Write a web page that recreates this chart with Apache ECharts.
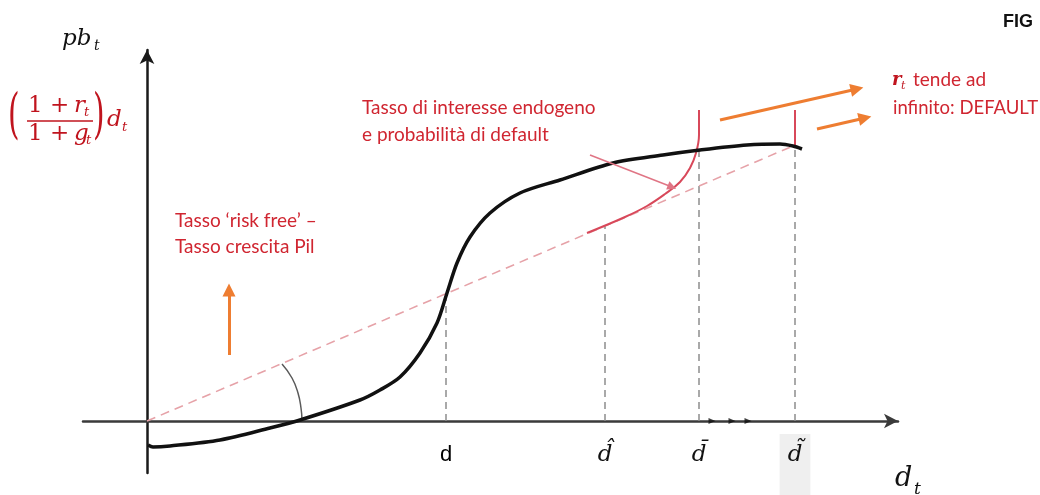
<!DOCTYPE html>
<html>
<head>
<meta charset="utf-8">
<script src="https://cdn.jsdelivr.net/npm/echarts@6/dist/echarts.min.js"></script>
<style>
  html, body { margin: 0; padding: 0; background: #ffffff; }
  #chart { width: 1040px; height: 495px; }
</style>
</head>
<body>
<div id="chart"></div>
<script>
// Primary balance pb_t as a function of the debt level d_t (S-shaped response)
const curveX = [0.1, 0.6, 2.3, 7.3, 12.3, 15.3, 21.3, 23.3, 25.3, 27.3, 29.0, 30.0, 31.0, 32.3, 34.3, 37.3, 41.3, 46.6, 51.6, 55.3, 60.0, 63.3, 64.6, 65.5];
const curveY = [-2.4, -2.6, -2.5, -1.9, -0.7, 0.1, 2.1, 3.1, 4.4, 6.8, 9.8, 12.8, 15.8, 18.4, 20.8, 22.8, 24.1, 25.8, 26.6, 27.1, 27.6, 27.7, 27.5, 27.2];

// Interest burden line ((1+r)/(1+g)) d_t with the risk-free rate
const rateLineX = [0, 64.6];
const rateLineY = [0, 27.5];

// Endogenous rate branch: the burden bends up and explodes at d-bar
const endoX = [44.0, 47.8, 50.0, 51.8, 53.3, 54.3, 54.9, 55.2, 55.2];
const endoY = [18.8, 20.4, 21.5, 22.7, 23.9, 25.3, 26.8, 28.6, 31.1];

// Vertical burden at d-tilde
const tildeX = [64.8, 64.8];
const tildeY = [27.4, 31.1];

// Debt thresholds on the horizontal axis
const thresholdValues = [29.9, 45.8, 55.2, 64.8];
const thresholdLabels = ['d', 'd\u0302', 'd\u0304', 'd\u0303'];
const thresholdTops = [12.8, 19.5, 27.1, 27.4];

// Angle mark between the rate line and the axis
const arcX = [13.5, 14.5, 15.1, 15.4, 15.5];
const arcY = [5.7, 4.3, 2.8, 1.3, 0.1];

// Arrows: [x0, y0, x1, y1]
const orangeArrows = [[8.2, 6.6, 8.2, 13.1], [57.3, 30.1, 71.0, 33.2], [67.0, 29.2, 71.8, 30.3]];
const pinkArrows = [[44.3, 26.6, 52.5, 23.4]];

// Small step marks between d-bar and d-tilde
const stepMarksX = [56.5, 58.5, 60.1];

const RED = '#d02631';
const DARKRED = '#c0141e';
const SERIF = '"DejaVu Serif"';
const SANS = 'Lato';

const zip = (xs, ys) => xs.map((x, i) => [x, ys[i]]);

const dropSeries = thresholdValues.map((x, i) => ({
  type: 'line',
  data: [[x, 0], [x, thresholdTops[i]]],
  symbol: 'none',
  lineStyle: { color: '#8c8c8c', width: 1.5, type: [7, 5] },
  z: 1,
  silent: true
}));

const arrowSeries = (list, color, width, size) => ({
  type: 'line',
  data: [],
  silent: true,
  markLine: {
    silent: true,
    animation: false,
    symbol: ['none', 'triangle'],
    symbolSize: size,
    label: { show: false },
    lineStyle: { color: color, width: width, type: 'solid' },
    data: list.map(a => [{ coord: [a[0], a[1]] }, { coord: [a[2], a[3]] }])
  }
});

const txt = (x, y, text, font, fill, extra) => Object.assign({
  type: 'text', x: x, y: y,
  style: { text: text, font: font, fill: fill, textVerticalAlign: 'middle', verticalAlign: 'middle' }
}, extra || {});

// threshold names written under the axis, one style per kind of symbol
const labelStyle = (i) => (i === 0 ? 's' : (i === 3 ? 'g' : 'm'));

const chart = echarts.init(document.getElementById('chart'), null, { renderer: 'canvas' });

chart.setOption({
  animation: false,
  backgroundColor: '#ffffff',
  grid: { left: 83, right: 142, top: 50, bottom: 22, containLabel: false, outerBoundsMode: 'none' },
  xAxis: {
    type: 'value',
    min: -6.4,
    max: 75.1,
    splitLine: { show: false },
    axisTick: { show: false },
    axisLabel: { show: false },
    axisLine: {
      show: true, onZero: true,
      symbol: ['none', 'arrow'], symbolSize: [11, 14],
      lineStyle: { color: '#3a3a3a', width: 2.5 }
    }
  },
  yAxis: {
    type: 'value',
    min: -5.2,
    max: 37.1,
    splitLine: { show: false },
    axisTick: { show: false },
    axisLabel: { show: false },
    axisLine: {
      show: true, onZero: true,
      symbol: ['none', 'arrow'], symbolSize: [11, 14],
      lineStyle: { color: '#1a1a1a', width: 2.5 }
    }
  },
  series: [
    ...dropSeries,
    {
      type: 'line', data: zip(rateLineX, rateLineY), symbol: 'none', silent: true, z: 2,
      lineStyle: { color: '#e6a2a8', width: 1.6, type: [9, 6] }
    },
    {
      type: 'line', data: zip(arcX, arcY), symbol: 'none', smooth: true, silent: true, z: 2,
      lineStyle: { color: '#5a5a5a', width: 1.5 }
    },
    {
      type: 'line', data: zip(endoX, endoY), symbol: 'none', smooth: 0.4, silent: true, z: 3,
      lineStyle: { color: '#d8485a', width: 2 }
    },
    {
      type: 'line', data: zip(tildeX, tildeY), symbol: 'none', silent: true, z: 3,
      lineStyle: { color: '#d8485a', width: 2 }
    },
    {
      type: 'line', data: zip(curveX, curveY), symbol: 'none', smooth: 0.3, silent: true, z: 4,
      lineStyle: { color: '#111111', width: 3.5 }
    },
    {
      type: 'scatter', data: stepMarksX.map(x => [x, 0]), symbol: 'triangle', symbolSize: [6, 7], symbolRotate: -90,
      itemStyle: { color: '#111' }, silent: true, z: 5
    },
    {
      type: 'scatter', silent: true, z: 6,
      symbolSize: 0,
      itemStyle: { color: '#000000' },
      emphasis: { disabled: true },
      data: thresholdValues.map((x, i) => ({ value: [x, 0], name: thresholdLabels[i] })),
      label: {
        show: true,
        position: 'bottom',
        distance: 13,
        color: '#000000',
        opacity: 1,
        formatter: (p) => '{' + labelStyle(p.dataIndex) + '|' + p.name + '}',
        rich: {
          s: { fontFamily: '"Liberation Sans"', fontSize: 22, color: '#000000', padding: [10, 8, 30, 8] },
          m: { fontFamily: SERIF, fontStyle: 'italic', fontSize: 23, color: '#111111', padding: [10, 8, 30, 8] },
          g: { fontFamily: SERIF, fontStyle: 'italic', fontSize: 23, color: '#111111', padding: [10, 8, 30, 8], backgroundColor: '#efefef' }
        }
      }
    },
    arrowSeries(orangeArrows, '#ee7d31', 3, [13, 13]),
    arrowSeries(pinkArrows, '#e07585', 1.6, [9, 9])
  ],
  graphic: [
    // vertical axis name pb_t
    txt(62, 39, 'pb', 'italic 23px ' + SERIF, '#111'),
    txt(94, 46, 't', 'italic 14px ' + SERIF, '#111'),
    // burden coefficient ((1+r)/(1+g)) d_t
    txt(8, 118, '(', '54px ' + SERIF, DARKRED, { scaleX: 0.55 }),
    txt(28, 106, '1 + ', '23px ' + SERIF, DARKRED),
    txt(74, 106, 'r', 'italic 23px ' + SERIF, DARKRED),
    txt(84, 113, 't', 'italic 13px ' + SERIF, DARKRED),
    { type: 'line', shape: { x1: 27, y1: 121, x2: 93, y2: 121 }, style: { stroke: DARKRED, lineWidth: 1.5 } },
    txt(28, 134, '1 + ', '23px ' + SERIF, DARKRED),
    txt(74, 134, 'g', 'italic 23px ' + SERIF, DARKRED),
    txt(86, 141, 't', 'italic 13px ' + SERIF, DARKRED),
    txt(93, 118, ')', '54px ' + SERIF, DARKRED, { scaleX: 0.55 }),
    txt(107, 120, 'd', 'italic 23px ' + SERIF, DARKRED),
    txt(122, 128, 't', 'italic 13px ' + SERIF, DARKRED),
    // annotations
    txt(362, 108, 'Tasso di interesse endogeno', '19px ' + SANS, RED),
    txt(362, 135, 'e probabilità di default', '19px ' + SANS, RED),
    txt(175, 221, 'Tasso \u2018risk free\u2019 \u2013', '19px ' + SANS, RED),
    txt(175, 247, 'Tasso crescita Pil', '19px ' + SANS, RED),
    txt(892, 80, 'r', 'italic bold 18px ' + SERIF, DARKRED),
    txt(901, 86, 't', 'italic 11px ' + SERIF, DARKRED),
    txt(913, 80, 'tende ad', '19px ' + SANS, RED),
    txt(893, 108, 'infinito: DEFAULT', '18.5px ' + SANS, RED),
    txt(1003, 22, 'FIG', 'bold 18px "Liberation Sans"', '#111'),
    // horizontal axis name d_t
    txt(895, 479, 'd', 'italic 27px ' + SERIF, '#111'),
    txt(914, 490, 't', 'italic 17px ' + SERIF, '#111')
  ]
});
</script>
</body>
</html>
